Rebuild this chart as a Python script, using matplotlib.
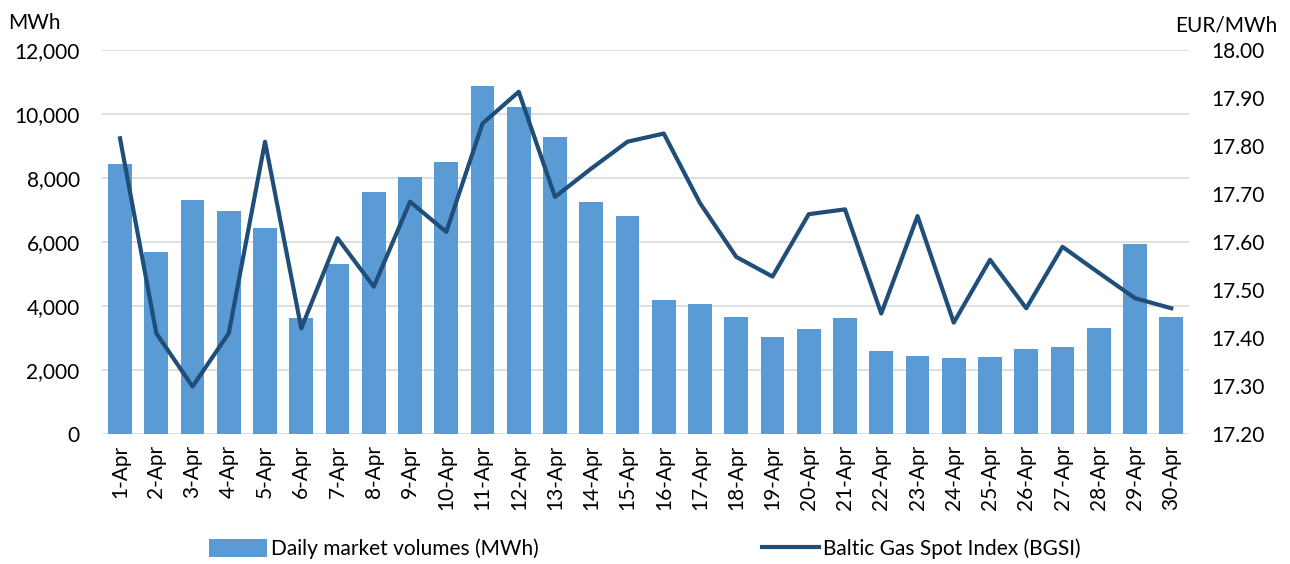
import matplotlib.pyplot as plt
import numpy as np

plt.rcParams['font.family'] = ['Lato', 'DejaVu Sans']

days = [f"{d}-Apr" for d in range(1, 31)]
volumes = [8430, 5690, 7310, 6970, 6440, 3620, 5310, 7560, 8030, 8510,
           10870, 10230, 9290, 7240, 6810, 4190, 4060, 3670, 3020, 3270,
           3630, 2590, 2450, 2360, 2420, 2660, 2730, 3300, 5930, 3660]
bgsi = [17.816, 17.410, 17.299, 17.410, 17.809, 17.420, 17.608, 17.507, 17.684, 17.621,
        17.847, 17.913, 17.694, 17.753, 17.809, 17.826, 17.681, 17.569, 17.528, 17.658,
        17.668, 17.451, 17.654, 17.432, 17.563, 17.462, 17.590, 17.536, 17.483, 17.462]

bar_col = "#5B9BD5"
line_col = "#1F4E79"
fs = 15

fig = plt.figure(figsize=(12.9, 5.64), dpi=100)
ax = fig.add_axes([0.079, 0.2305, 0.843, 0.6808])
x = np.arange(len(days))
bars = ax.bar(x, volumes, width=0.66, color=bar_col, zorder=2, label="Daily market volumes (MWh)")
ax.set_xlim(-0.5, len(days) - 0.5)
ax.set_ylim(0, 12000)
ax.set_yticks(np.arange(0, 12001, 2000))
ax.set_yticklabels([f"{v:,}" for v in range(0, 12001, 2000)])
ax.grid(axis='y', color="#D9D9D9", linewidth=1.2, zorder=0)
ax.set_axisbelow(True)
ax.set_xticks(x)
ax.set_xticklabels(days, rotation=90)
ax.tick_params(axis='y', length=0, pad=16, labelsize=fs)
ax.tick_params(axis='x', length=0, pad=8, labelsize=fs)
for s in ax.spines.values():
    s.set_visible(False)

ax2 = ax.twinx()
line, = ax2.plot(x, bgsi, color=line_col, linewidth=3, zorder=3, label="Baltic Gas Spot Index (BGSI)")
ax2.set_ylim(17.2, 18.0)
ticks2 = np.round(np.arange(17.2, 18.001, 0.1), 2)
ax2.set_yticks(ticks2)
ax2.set_yticklabels([f"{t:.2f}" for t in ticks2])
ax2.tick_params(axis='y', length=0, pad=16, labelsize=fs)
for s in ax2.spines.values():
    s.set_visible(False)

fig.text(0.006, 0.96, "MWh", fontsize=fs, va='center', ha='left')
fig.text(0.99, 0.955, "EUR/MWh", fontsize=fs, va='center', ha='right')

fig.legend([bars, line], [bars.get_label(), line.get_label()], loc='center',
           bbox_to_anchor=(0.5, 0.027), ncol=2, frameon=False, fontsize=fs,
           handlelength=2.75, handleheight=0.9, handletextpad=0.2, columnspacing=10.7)

fig.savefig("out.png", dpi=100)
